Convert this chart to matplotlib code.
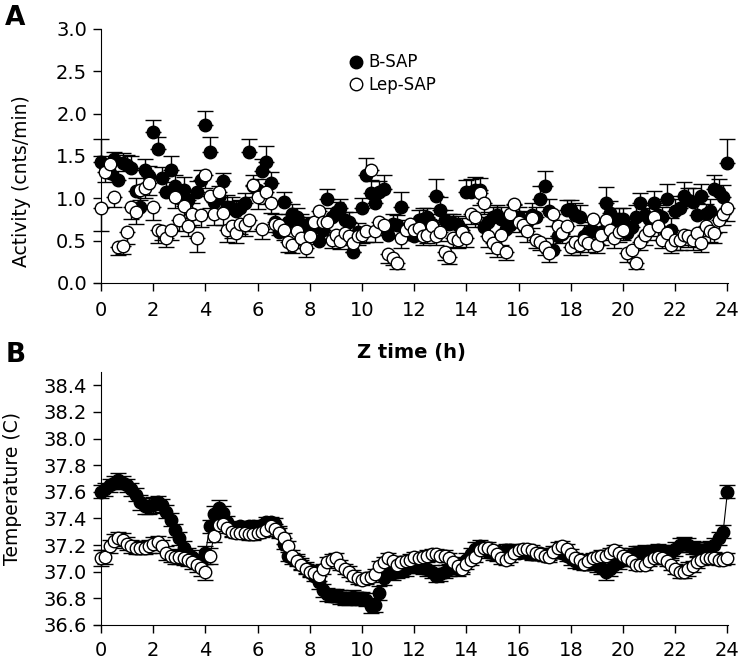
import numpy as np
import matplotlib as mpl
mpl.use('Agg')
import matplotlib.pyplot as pl

# Z time in hours, 10 min bins
zt = np.arange(145) / 6.0

# activity (cnts/min), one row per hour
bsap_act = [1.43, 1.38, 1.30, 1.47, 1.22, 1.42,
            1.39, 1.36, 1.09, 0.90, 1.33, 1.26,
            1.78, 1.58, 1.24, 1.07, 1.34, 1.14,
            1.00, 1.10, 0.98, 0.82, 1.07, 1.22,
            1.87, 1.55, 0.96, 1.02, 1.20, 0.90,
            0.88, 0.85, 0.88, 0.94, 1.55, 1.14,
            1.10, 1.32, 1.43, 1.18, 0.72, 0.60,
            0.96, 0.72, 0.82, 0.78, 0.70, 0.68,
            0.60, 0.65, 0.50, 0.63, 0.99, 0.78,
            0.84, 0.89, 0.74, 0.72, 0.37, 0.60,
            0.88, 1.28, 1.06, 0.95, 1.08, 1.11,
            0.57, 0.70, 0.68, 0.90, 0.62, 0.58,
            0.55, 0.74, 0.76, 0.78, 0.70, 1.03,
            0.86, 0.74, 0.70, 0.71, 0.68, 0.63,
            1.08, 1.07, 1.10, 1.10, 0.66, 0.72,
            0.78, 0.80, 0.76, 0.64, 0.68, 0.78,
            0.78, 0.72, 0.72, 0.80, 0.78, 0.99,
            1.15, 0.85, 0.39, 0.55, 0.58, 0.86,
            0.86, 0.80, 0.78, 0.56, 0.60, 0.62,
            0.46, 0.60, 0.95, 0.83, 0.70, 0.76,
            0.76, 0.59, 0.66, 0.78, 0.94, 0.80,
            0.76, 0.94, 0.80, 0.78, 0.99, 0.63,
            0.85, 0.88, 1.03, 0.98, 0.96, 0.80,
            1.03, 0.81, 0.85, 1.11, 1.07, 1.01,
            1.42]
bsap_act_err = [.27, .12, .10, .08, .10, .12,
                .12, .14, .15, .18, .14, .12,
                .15, .14, .13, .12, .16, .13,
                .13, .15, .12, .12, .14, .12,
                .16, .17, .13, .12, .10, .14,
                .14, .12, .10, .12, .15, .14,
                .13, .14, .19, .13, .10, .12,
                .12, .10, .11, .10, .12, .10,
                .10, .12, .12, .10, .12, .10,
                .12, .10, .10, .12, .10, .11,
                .12, .20, .16, .14, .12, .16,
                .13, .12, .12, .18, .12, .10,
                .10, .12, .12, .10, .11, .20,
                .15, .12, .12, .10, .11, .14,
                .14, .16, .15, .14, .12, .12,
                .12, .12, .14, .14, .13, .14,
                .12, .12, .13, .14, .12, .15,
                .17, .14, .14, .12, .12, .12,
                .12, .14, .14, .12, .12, .13,
                .12, .12, .18, .14, .12, .12,
                .12, .12, .12, .14, .12, .12,
                .12, .15, .12, .12, .18, .14,
                .14, .15, .16, .14, .16, .14,
                .14, .12, .14, .16, .16, .15,
                .28]
lep_act = [0.89, 1.31, 1.41, 1.02, 0.43, 0.44,
           0.60, 0.90, 0.84, 1.10, 1.12, 1.18,
           0.90, 0.63, 0.61, 0.53, 0.63, 1.02,
           0.74, 0.91, 0.67, 0.81, 0.53, 0.80,
           1.28, 1.03, 0.81, 1.07, 0.83, 0.63,
           0.67, 0.59, 0.70, 0.68, 0.74, 1.16,
           1.01, 0.64, 1.07, 0.95, 0.70, 0.69,
           0.63, 0.49, 0.45, 0.61, 0.53, 0.41,
           0.56, 0.72, 0.85, 0.72, 0.72, 0.51,
           0.57, 0.50, 0.59, 0.55, 0.47, 0.55,
           0.57, 0.61, 1.33, 0.61, 0.72, 0.69,
           0.34, 0.29, 0.24, 0.53, 0.63, 0.70,
           0.63, 0.65, 0.55, 0.57, 0.67, 0.55,
           0.60, 0.37, 0.31, 0.53, 0.51, 0.60,
           0.53, 0.82, 0.78, 1.06, 0.94, 0.55,
           0.47, 0.41, 0.57, 0.37, 0.81, 0.93,
           0.72, 0.68, 0.61, 0.77, 0.51, 0.49,
           0.43, 0.35, 0.81, 0.67, 0.59, 0.67,
           0.43, 0.49, 0.45, 0.51, 0.47, 0.76,
           0.45, 0.57, 0.74, 0.63, 0.53, 0.60,
           0.63, 0.35, 0.39, 0.24, 0.49, 0.57,
           0.63, 0.78, 0.67, 0.51, 0.59, 0.45,
           0.51, 0.51, 0.57, 0.55, 0.51, 0.59,
           0.47, 0.67, 0.62, 0.59, 0.74, 0.82,
           0.89]
lep_act_err = [.27, .12, .10, .12, .10, .10,
               .14, .14, .14, .12, .12, .14,
               .16, .16, .10, .10, .12, .14,
               .12, .14, .12, .12, .16, .14,
               .16, .14, .12, .14, .14, .14,
               .14, .12, .12, .12, .12, .14,
               .14, .12, .14, .12, .10, .12,
               .12, .12, .10, .12, .12, .10,
               .10, .12, .12, .12, .12, .10,
               .10, .10, .10, .10, .10, .10,
               .10, .12, .12, .12, .12, .12,
               .10, .08, .07, .12, .12, .10,
               .12, .12, .10, .10, .12, .10,
               .10, .10, .09, .10, .10, .10,
               .10, .12, .12, .14, .12, .12,
               .12, .10, .12, .10, .12, .14,
               .12, .12, .12, .12, .10, .10,
               .10, .10, .14, .12, .12, .12,
               .10, .12, .12, .10, .10, .12,
               .10, .12, .12, .12, .12, .12,
               .12, .10, .10, .07, .10, .12,
               .12, .12, .12, .10, .12, .10,
               .12, .12, .12, .12, .12, .12,
               .10, .12, .14, .12, .14, .14,
               .16]

# core temperature (C)
bsap_temp = [37.60, 37.62, 37.65, 37.67, 37.69, 37.67,
             37.65, 37.62, 37.58, 37.52, 37.49, 37.49,
             37.50, 37.52, 37.50, 37.45, 37.39, 37.31,
             37.25, 37.18, 37.13, 37.11, 37.08, 37.06,
             37.14, 37.34, 37.43, 37.48, 37.44, 37.37,
             37.31, 37.33, 37.34, 37.33, 37.34, 37.34,
             37.33, 37.35, 37.37, 37.37, 37.36, 37.30,
             37.21, 37.12, 37.10, 37.09, 37.06, 37.03,
             37.01, 36.97, 36.92, 36.86, 36.83, 36.82,
             36.82, 36.81, 36.80, 36.80, 36.81, 36.80,
             36.80, 36.79, 36.74, 36.75, 36.84, 36.95,
             37.00, 36.99, 37.00, 37.01, 37.02, 37.04,
             37.05, 37.04, 37.03, 37.02, 37.00, 36.97,
             36.98, 37.00, 37.02, 37.03, 37.02, 37.05,
             37.09, 37.13, 37.17, 37.19, 37.17, 37.15,
             37.14, 37.13, 37.14, 37.16, 37.16, 37.15,
             37.14, 37.15, 37.14, 37.13, 37.13, 37.14,
             37.12, 37.13, 37.14, 37.15, 37.14, 37.12,
             37.10, 37.08, 37.07, 37.06, 37.06, 37.07,
             37.05, 37.03, 37.00, 37.02, 37.05, 37.07,
             37.09, 37.11, 37.13, 37.14, 37.14, 37.15,
             37.14, 37.15, 37.16, 37.15, 37.14, 37.15,
             37.17, 37.20, 37.21, 37.20, 37.18, 37.17,
             37.16, 37.17, 37.18, 37.20, 37.25, 37.30,
             37.60]
bsap_temp_err = [.05, .05, .05, .05, .05, .05,
                 .05, .05, .05, .06, .06, .06,
                 .06, .05, .05, .05, .05, .05,
                 .05, .05, .05, .05, .05, .05,
                 .05, .05, .06, .06, .05, .05,
                 .04, .04, .04, .04, .04, .04,
                 .04, .04, .04, .04, .04, .04,
                 .04, .04, .04, .04, .04, .04,
                 .04, .04, .05, .05, .05, .05,
                 .05, .05, .05, .05, .05, .05,
                 .05, .05, .05, .05, .05, .05,
                 .05, .05, .05, .05, .05, .05,
                 .05, .05, .05, .05, .05, .05,
                 .05, .05, .05, .05, .05, .05,
                 .05, .05, .05, .05, .05, .05,
                 .05, .05, .05, .05, .05, .05,
                 .04, .04, .04, .04, .04, .04,
                 .04, .04, .04, .04, .04, .04,
                 .05, .05, .05, .05, .05, .05,
                 .05, .05, .06, .05, .05, .05,
                 .05, .05, .05, .05, .05, .05,
                 .05, .05, .05, .05, .05, .05,
                 .05, .05, .05, .05, .05, .05,
                 .05, .05, .05, .05, .05, .05,
                 .05]
lep_temp = [37.10, 37.11, 37.19, 37.23, 37.25, 37.24,
            37.21, 37.19, 37.18, 37.18, 37.18, 37.19,
            37.21, 37.22, 37.19, 37.14, 37.12, 37.11,
            37.11, 37.10, 37.09, 37.07, 37.05, 37.03,
            37.00, 37.12, 37.27, 37.35, 37.36, 37.33,
            37.30, 37.29, 37.29, 37.29, 37.28, 37.28,
            37.29, 37.30, 37.31, 37.34, 37.32, 37.29,
            37.25, 37.19, 37.12, 37.08, 37.05, 37.02,
            37.00, 36.99, 36.97, 37.02, 37.07, 37.09,
            37.10, 37.05, 37.02, 37.00, 36.97, 36.95,
            36.94, 36.95, 36.96, 36.98, 37.04, 37.07,
            37.10, 37.08, 37.05, 37.07, 37.08, 37.09,
            37.11, 37.10, 37.11, 37.12, 37.13, 37.13,
            37.12, 37.12, 37.10, 37.07, 37.04, 37.02,
            37.06, 37.09, 37.11, 37.16, 37.18, 37.18,
            37.16, 37.13, 37.10, 37.09, 37.11, 37.14,
            37.16, 37.17, 37.17, 37.16, 37.14, 37.13,
            37.12, 37.11, 37.15, 37.18, 37.19, 37.17,
            37.13, 37.10, 37.09, 37.06, 37.08, 37.10,
            37.11, 37.12, 37.12, 37.14, 37.16, 37.14,
            37.12, 37.10, 37.08, 37.05, 37.05, 37.05,
            37.08, 37.10, 37.11, 37.10, 37.08, 37.05,
            37.02, 37.00, 37.00, 37.02, 37.04, 37.07,
            37.09, 37.10, 37.10, 37.10, 37.09, 37.09,
            37.10]
lep_temp_err = [.06, .05, .05, .05, .05, .05,
                .05, .05, .05, .05, .05, .05,
                .05, .05, .05, .05, .05, .05,
                .05, .05, .05, .05, .05, .06,
                .06, .06, .05, .04, .04, .04,
                .04, .04, .04, .04, .04, .04,
                .04, .04, .04, .04, .04, .04,
                .04, .04, .04, .04, .04, .04,
                .04, .04, .04, .04, .04, .04,
                .04, .04, .04, .04, .04, .04,
                .04, .04, .04, .04, .04, .04,
                .04, .04, .04, .04, .04, .04,
                .04, .04, .04, .04, .04, .04,
                .04, .04, .04, .04, .04, .04,
                .04, .04, .04, .04, .04, .04,
                .04, .04, .04, .04, .04, .04,
                .04, .04, .04, .04, .04, .04,
                .04, .04, .04, .04, .04, .04,
                .04, .04, .04, .04, .04, .04,
                .04, .04, .04, .04, .04, .04,
                .04, .04, .04, .04, .04, .04,
                .04, .04, .04, .04, .04, .04,
                .04, .05, .05, .05, .04, .04,
                .04, .04, .04, .04, .04, .04,
                .04]

xticks = np.arange(0, 25, 2)
labels = ['B-SAP', 'Lep-SAP']

pl.rcParams['font.family'] = ['DejaVu Sans']
f = pl.figure(figsize=(7.42, 6.62), dpi=100)
axA = f.add_axes([94/742., 1-283/662., 634/742., 254/662.])
axB = f.add_axes([94/742., 1-625/662., 634/742., 253/662.])

ms = 9
cap = 5.5
zeros = np.zeros(len(zt))

# panel A: scatter with one-sided error bars
eb1 = axA.errorbar(zt, bsap_act, yerr=[zeros, bsap_act_err], fmt='o', color='k',
                   mfc='k', mec='k', ms=ms, mew=1, elinewidth=1, capsize=cap,
                   capthick=1, clip_on=False, zorder=2)
eb2 = axA.errorbar(zt, lep_act, yerr=[lep_act_err, zeros], fmt='o', color='k',
                   mfc='w', mec='k', ms=ms, mew=1, elinewidth=1, capsize=cap,
                   capthick=1, clip_on=False, zorder=3)
axA.set_ylim(0, 3.0)
axA.set_yticks(np.arange(0, 3.01, 0.5))
axA.set_ylabel('Activity (cnts/min)', fontsize=13.5)
axA.yaxis.set_label_coords(-0.099, 0.40)
axA.legend([eb1[0], eb2[0]], labels, loc='upper left', bbox_to_anchor=(0.39, 0.93),
           frameon=False, fontsize=12, handletextpad=0.2, labelspacing=0.25,
           handlelength=1.0, borderaxespad=0)

# panel B: connected line with error bars
axB.errorbar(zt, bsap_temp, yerr=bsap_temp_err, fmt='-o', color='k', lw=0.8,
             mfc='k', mec='k', ms=ms, mew=1, elinewidth=1, capsize=cap,
             capthick=1, clip_on=False, zorder=2)
axB.errorbar(zt, lep_temp, yerr=lep_temp_err, fmt='-o', color='k', lw=0.8,
             mfc='w', mec='k', ms=ms, mew=1, elinewidth=1, capsize=cap,
             capthick=1, clip_on=False, zorder=3)
axB.set_ylim(36.6, 38.5)
axB.set_yticks(np.arange(36.6, 38.41, 0.2))
axB.set_yticklabels(['%.1f' % v for v in np.arange(36.6, 38.41, 0.2)])
axB.set_ylabel('Temperature (C)', fontsize=13.5)
axB.yaxis.set_label_coords(-0.113, 0.54)

for ax in [axA, axB]:
    ax.set_xlim(-0.27, 24.02)
    ax.set_xticks(xticks)
    ax.spines['left'].set_position(('data', 0))
    ax.spines['top'].set_visible(False)
    ax.spines['right'].set_visible(False)
    ax.tick_params(direction='out', length=6, width=1, labelsize=14)
    ax.tick_params(axis='y', pad=4)
axA.tick_params(axis='x', pad=7)
axB.tick_params(axis='x', pad=5.5)

f.text(0.007, 0.993, 'A', fontsize=19, fontweight='bold', va='top', ha='left')
f.text(0.007, 0.484, 'B', fontsize=19, fontweight='bold', va='top', ha='left')
f.text(411/742., 1-353/662., 'Z time (h)', fontsize=14, fontweight='bold',
       ha='center', va='center')

f.savefig('out.png', dpi=100)
